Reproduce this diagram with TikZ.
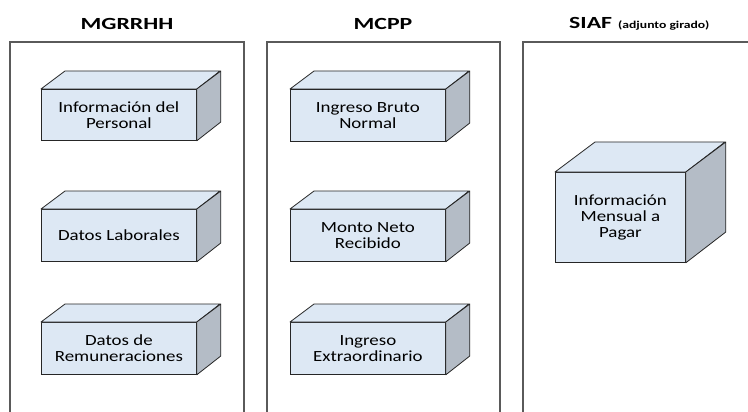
\documentclass[tikz,border=0pt]{standalone}
\usepackage{fontspec}
\setmainfont{Carlito}
\newfontfamily\bodyfont[FakeStretch=1.22]{Carlito}
\newfontfamily\titlefont[FakeStretch=1.4]{Carlito}
\newfontfamily\subtitlefont[FakeStretch=1.3]{Carlito}
\definecolor{frontc}{HTML}{DDE8F4}
\definecolor{sidec}{HTML}{B4BCC6}
\definecolor{panelc}{HTML}{5A5A5A}
\tikzset{
  panel/.style={draw=panelc, line width=1.2pt},
  front/.style={draw=black!85, fill=frontc, line width=0.8pt, anchor=north west, inner sep=0pt,
    align=center, font=\bodyfont\fontsize{15.5}{16}\selectfont},
  topface/.style={draw=black!85, fill=frontc, line width=0.8pt, line join=round},
  sideface/.style={draw=black!85, fill=sidec, line width=0.8pt, line join=round},
  title/.style={font=\titlefont\bfseries\fontsize{17}{18}\selectfont, inner sep=0pt}
}
% \cuboid{name}{x}{y}{w}{h}{dx}{dy}{text}
\newcommand{\cuboid}[8]{%
  \node[front, minimum width=#4pt, minimum height=#5pt] (#1) at (#2,#3) {#8};
  \draw[topface] (#1.north west) -- ++(#6,-#7) -- ++(#4,0) -- (#1.north east) -- cycle;
  \draw[sideface] (#1.north east) -- ++(#6,-#7) -- ++(0,#5) -- (#1.south east) -- cycle;
}
\begin{document}
\begin{tikzpicture}[x=1pt,y=-1pt]
\useasboundingbox (0,0) rectangle (748,412);
% titles
\node[title] (t1) at (127,24) {MGRRHH};
\node[title] (t2) at (383,24) {MCPP};
\node[title, anchor=west] (t3) at (569,24) {SIAF\hspace{6pt}{\subtitlefont\bfseries\fontsize{10.5}{12}\selectfont(adjunto girado)}};
% panels
\draw[panel] (10,414) -- (10,42) -- (244,42) -- (244,414);
\draw[panel] (267,414) -- (267,42) -- (500,42) -- (500,414);
\draw[panel] (523,414) -- (523,42) -- (750,42);
% left column
\cuboid{a1}{41}{89}{155}{51}{24}{18}{Información del\\Personal}
\cuboid{a2}{41}{209}{155}{52}{24}{18}{Datos Laborales}
\cuboid{a3}{41}{322}{155}{52}{24}{18}{Datos de\\Remuneraciones}
% middle column
\cuboid{b1}{290}{89}{155}{52}{24}{18}{Ingreso Bruto\\Normal}
\cuboid{b2}{290}{209}{155}{52}{24}{18}{Monto Neto\\Recibido}
\cuboid{b3}{290}{322}{155}{52}{24}{18}{Ingreso\\Extraordinario}
% right
\cuboid{c1}{555}{172}{130}{90}{40}{30}{Información\\Mensual a\\Pagar}
\end{tikzpicture}
\end{document}
